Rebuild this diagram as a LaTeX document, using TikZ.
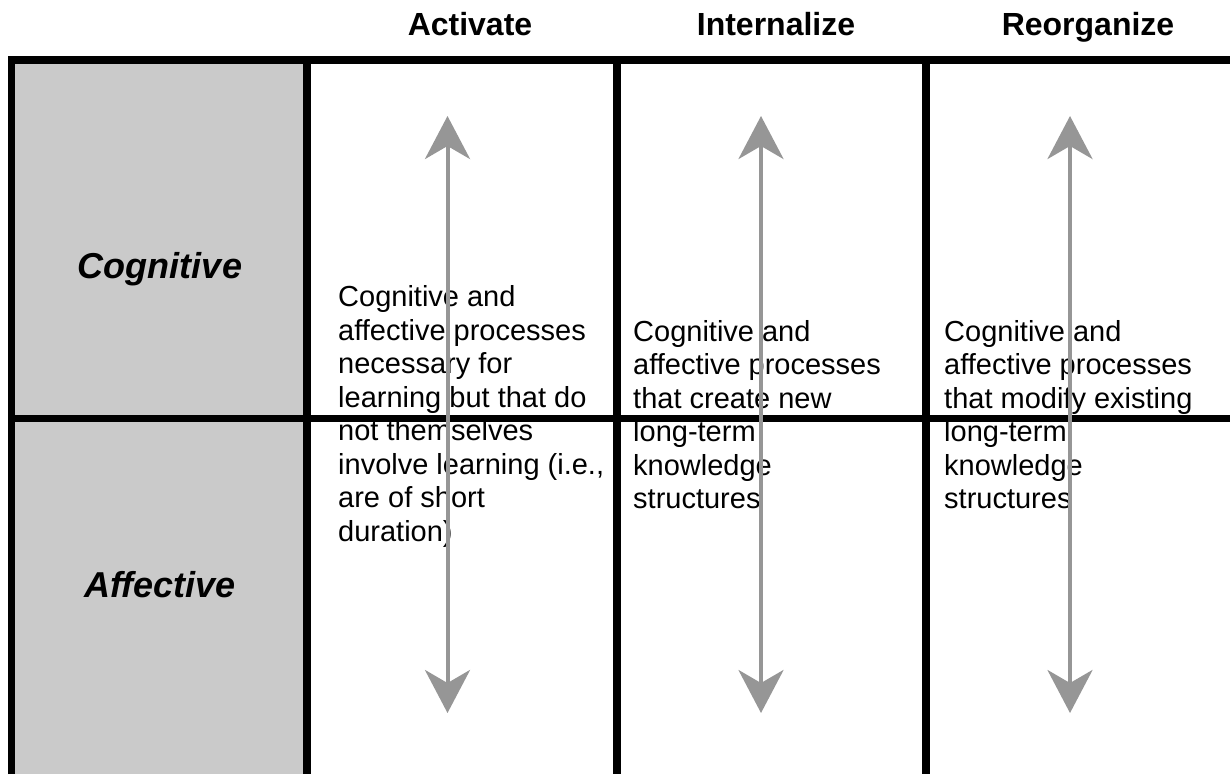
\documentclass[tikz,border=0pt]{standalone}
\usepackage{fontspec}
\setmainfont{Liberation Sans}
\usetikzlibrary{arrows.meta}
\definecolor{labelgray}{HTML}{CACACA}
\definecolor{arrowgray}{HTML}{969696}
\begin{document}
\begin{tikzpicture}[x=1pt,y=-1pt,
  gridline/.style={line width=7.5pt, black, line join=miter},
  colhead/.style={font=\fontsize{32}{38}\selectfont\bfseries, anchor=base, inner sep=0pt},
  rowhead/.style={font=\fontsize{36}{42}\selectfont\bfseries\itshape, anchor=base, inner sep=0pt},
  celltext/.style={font=\fontsize{29}{33.5}\selectfont, align=left, anchor=base west, inner sep=0pt},
  twoway/.style={arrowgray, line width=4pt,
    {Stealth[length=43pt,width=45pt,inset=13pt]}-{Stealth[length=43pt,width=45pt,inset=13pt]}}
]
\useasboundingbox (0,0) rectangle (1230,774);

% shaded label column
\fill[labelgray] (11.5,60) rectangle (307,774);

% table rules
\draw[gridline] (11.5,774) -- (11.5,60) -- (1230,60);
\draw[gridline] (307,60) -- (307,774);
\draw[gridline] (617,60) -- (617,774);
\draw[gridline] (926,60) -- (926,774);
\draw[gridline] (11.5,418.5) -- (1230,418.5);

% column headings
\node[colhead] (hact) at (470,35) {Activate};
\node[colhead] (hint) at (776,35) {Internalize};
\node[colhead] (hreo) at (1088,35) {Reorganize};

% row headings
\node[rowhead] (rcog) at (160,278) {Cognitive};
\node[rowhead] (raff) at (160,597) {Affective};

% cell descriptions (anchored at the baseline of the last line)
\node[celltext] (tact) at (338,541.2) {Cognitive and\\affective processes\\necessary for\\learning but that do\\not themselves\\involve learning (i.e.,\\are of short\\duration)};
\node[celltext] (tint) at (633,508.5) {Cognitive and\\affective processes\\that create new\\long-term\\knowledge\\structures};
\node[celltext] (treo) at (944,508.5) {Cognitive and\\affective processes\\that modify existing\\long-term\\knowledge\\structures};

% two-headed arrows spanning both rows
\coordinate (acttop) at (447.5,116);
\coordinate (actbot) at (447.5,713);
\coordinate (inttop) at (761,116);
\coordinate (intbot) at (761,713);
\coordinate (reotop) at (1070,116);
\coordinate (reobot) at (1070,713);
\draw[twoway] (acttop) -- (actbot);
\draw[twoway] (inttop) -- (intbot);
\draw[twoway] (reotop) -- (reobot);
\end{tikzpicture}
\end{document}
